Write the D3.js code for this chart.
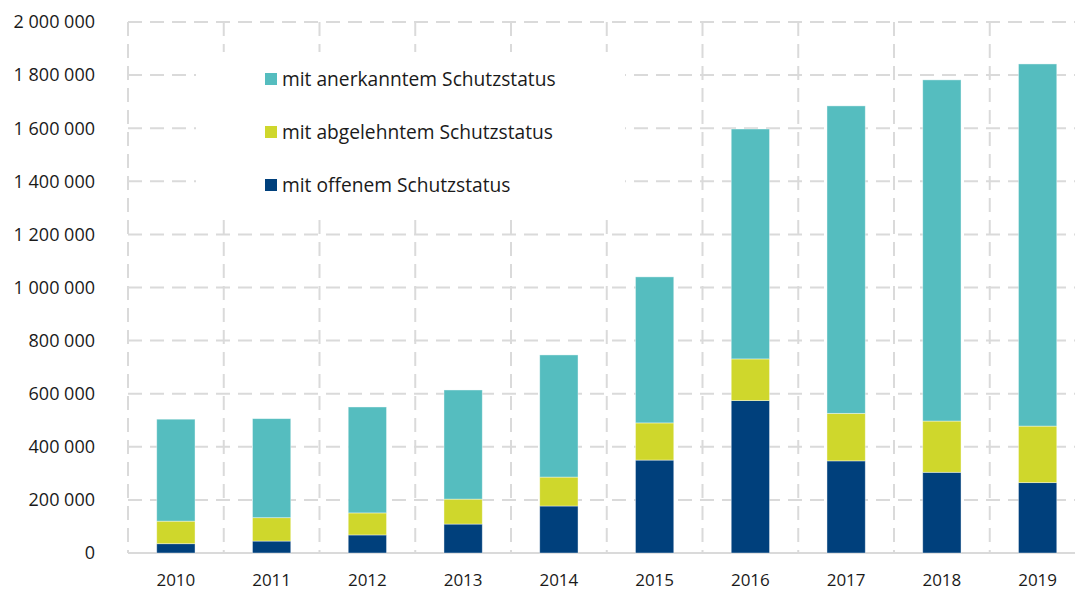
<!DOCTYPE html>
<html>
<head>
<meta charset="utf-8">
<script src="https://cdn.jsdelivr.net/npm/d3@7"></script>
<style>
  body { margin: 0; background: #fff; }
  svg { display: block; font-family: "Open Sans", "Noto Sans", sans-serif; }
</style>
</head>
<body>
<svg id="chart" width="1075" height="590"></svg>
<script>
const years = ["2010", "2011", "2012", "2013", "2014", "2015", "2016", "2017", "2018", "2019"];
// Schutzsuchende nach Schutzstatus
const offen = [35000, 45000, 68000, 109000, 177000, 350000, 574000, 347000, 304000, 265000];
const abgelehnt = [85000, 88000, 83000, 94000, 109000, 140000, 157000, 179000, 193000, 213000];
const anerkannt = [384000, 373000, 399000, 411000, 460000, 550000, 866000, 1158000, 1285000, 1364000];
const yTicks = [0, 200000, 400000, 600000, 800000, 1000000, 1200000, 1400000, 1600000, 1800000, 2000000];

const series = [
  { key: "offen", label: "mit offenem Schutzstatus", values: offen, color: "#00407c" },
  { key: "abgelehnt", label: "mit abgelehntem Schutzstatus", values: abgelehnt, color: "#cfd72c" },
  { key: "anerkannt", label: "mit anerkanntem Schutzstatus", values: anerkannt, color: "#55bdbf" }
];

const svg = d3.select("#chart");
const plotLeft = 128, plotBottom = 553, plotTop = 22;
const step = 95.75;

const x = d3.scaleBand().domain(years).range([plotLeft, plotLeft + step * years.length]);
const y = d3.scaleLinear().domain([0, 2000000]).range([plotBottom, plotTop]);

const de = d3.formatLocale({ decimal: ",", thousands: "\u00a0", grouping: [3], currency: ["", " €"] });
const fmt = de.format(",d");

const gridColor = "#dadada";
const dash = "14,8";

// horizontal gridlines
svg.append("g")
  .selectAll("line")
  .data(yTicks.slice(1))
  .join("line")
  .attr("x1", plotLeft)
  .attr("x2", x.range()[1])
  .attr("y1", (d) => y(d))
  .attr("y2", (d) => y(d))
  .attr("stroke", gridColor)
  .attr("stroke-width", 2)
  .attr("stroke-dasharray", dash);

// vertical gridlines at category boundaries
svg.append("g")
  .selectAll("line")
  .data(years.map((d) => x(d)).concat([x.range()[1]]))
  .join("line")
  .attr("x1", (d) => d)
  .attr("x2", (d) => d)
  .attr("y1", plotTop)
  .attr("y2", plotBottom)
  .attr("stroke", gridColor)
  .attr("stroke-width", 2)
  .attr("stroke-dasharray", dash);

// baseline
svg.append("line")
  .attr("x1", plotLeft)
  .attr("x2", x.range()[1])
  .attr("y1", y(0))
  .attr("y2", y(0))
  .attr("stroke", gridColor)
  .attr("stroke-width", 2);

// legend background covers the grid
svg.append("rect")
  .attr("x", 196)
  .attr("y", 52)
  .attr("width", 429)
  .attr("height", 160)
  .attr("fill", "#fff");

// stacked bars
const stack = d3.stack()
  .keys(series.map((s) => s.key))
  .value((d, k) => d[k]);
const rows = years.map((yr, i) => ({ year: yr, offen: offen[i], abgelehnt: abgelehnt[i], anerkannt: anerkannt[i] }));
const stacked = stack(rows);

const barW = x.bandwidth() * 0.4;
svg.append("g")
  .selectAll("g")
  .data(stacked)
  .join("g")
  .attr("fill", (d, i) => series[i].color)
  .selectAll("rect")
  .data((d) => d)
  .join("rect")
  .attr("x", (d) => x(d.data.year) + (x.bandwidth() - barW) / 2)
  .attr("width", barW)
  .attr("y", (d) => y(d[1]))
  .attr("height", (d) => y(d[0]) - y(d[1]))
  .attr("stroke", "#ffffff")
  .attr("stroke-opacity", 0.5)
  .attr("stroke-width", 0.8);

// y axis labels
svg.append("g")
  .selectAll("text")
  .data(yTicks)
  .join("text")
  .attr("x", 95)
  .attr("y", (d) => y(d))
  .attr("dy", "0.35em")
  .attr("text-anchor", "end")
  .attr("font-size", 18)
  .attr("fill", "#1a1a1a")
  .text((d) => fmt(d));

// x axis labels
svg.append("g")
  .selectAll("text")
  .data(years)
  .join("text")
  .attr("x", (d) => x(d) + x.bandwidth() / 2)
  .attr("y", 586)
  .attr("text-anchor", "middle")
  .attr("font-size", 17)
  .attr("fill", "#1a1a1a")
  .text((d) => d);

// legend
const legend = svg.append("g")
  .selectAll("g")
  .data(series.slice().reverse())
  .join("g")
  .attr("transform", (d, i) => `translate(265, ${79 + i * 53})`);

legend.append("rect")
  .attr("x", 0)
  .attr("y", -6)
  .attr("width", 12)
  .attr("height", 12)
  .attr("fill", (d) => d.color);

legend.append("text")
  .attr("x", 17)
  .attr("y", 0)
  .attr("dy", "0.35em")
  .attr("font-size", 19.2)
  .attr("fill", "#1a1a1a")
  .text((d) => d.label);
</script>
</body>
</html>
